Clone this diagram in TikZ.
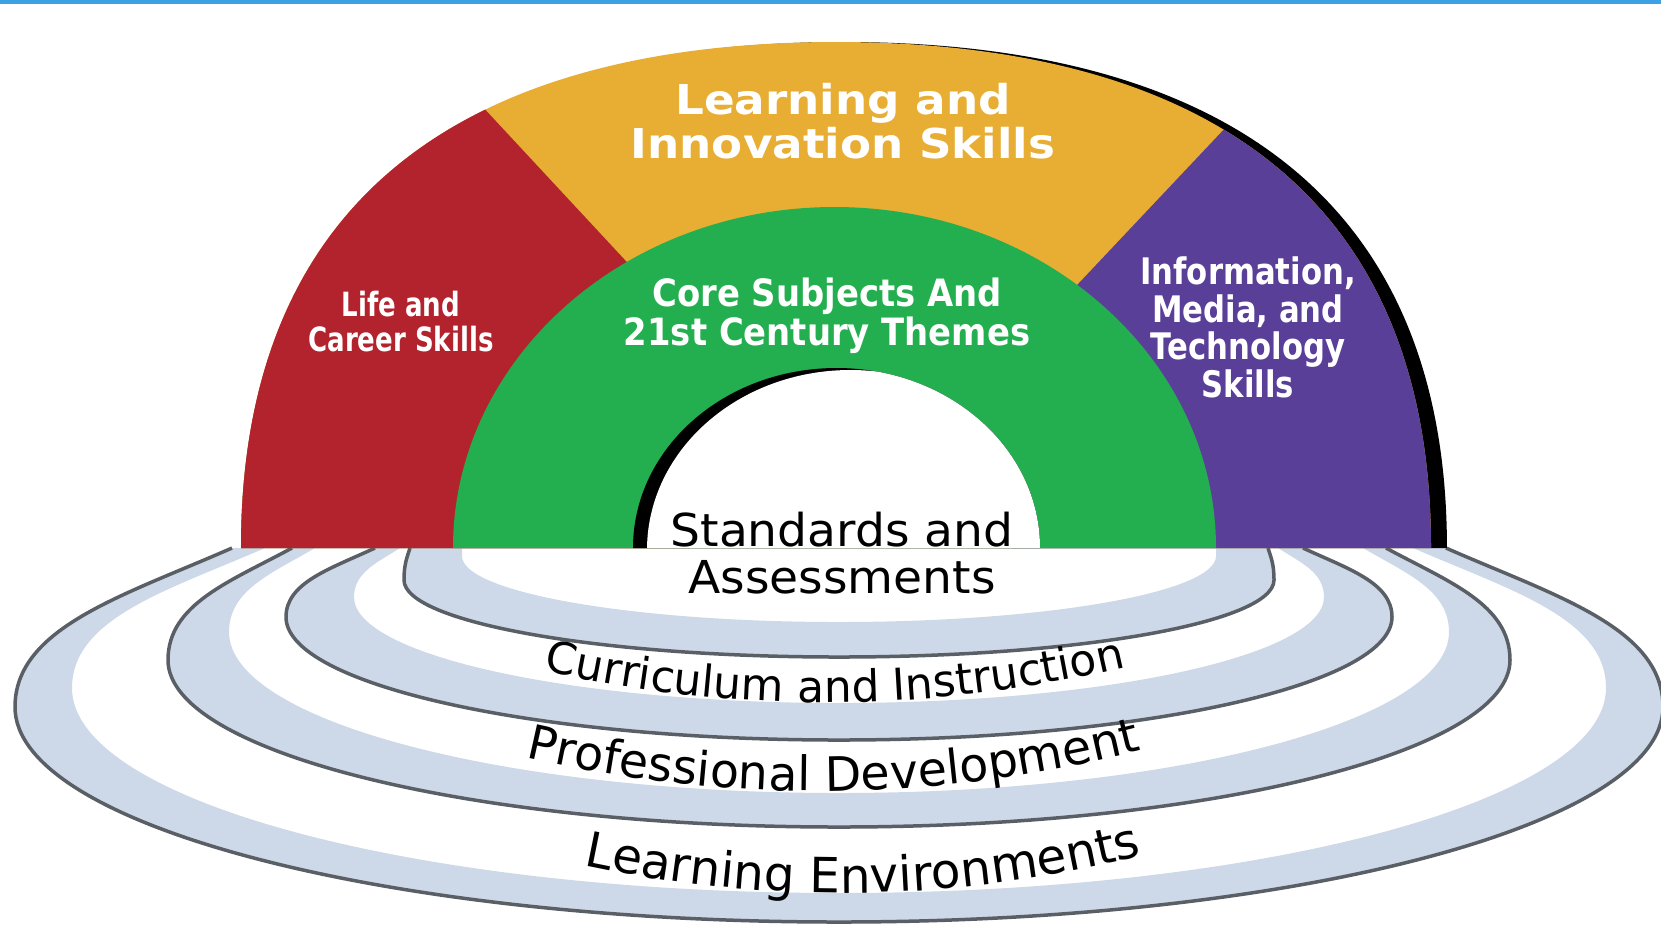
\documentclass[tikz,border=0pt]{standalone}
\usepackage{graphicx}
\usepackage{fontspec}
\usetikzlibrary{decorations.text}

\newfontfamily\dejavu{DejaVu Sans}
\definecolor{skyline}{HTML}{3DA0E4}
\definecolor{lifered}{HTML}{B3232E}
\definecolor{learnyellow}{HTML}{E8AD33}
\definecolor{coregreen}{HTML}{23AF4F}
\definecolor{infopurple}{HTML}{5A3F99}
\definecolor{ringblue}{HTML}{CDD8E8}
\definecolor{ringline}{HTML}{5A5F66}

\newcommand{\squeezed}[2]{\scalebox{#1}[1]{\begin{tabular}{@{}c@{}}#2\end{tabular}}}
\newcommand{\curvefontA}{\dejavu\fontsize{12.5}{15}\selectfont}
\newcommand{\curvefontB}{\dejavu\fontsize{13.5}{16}\selectfont}
\newcommand{\curvefontC}{\dejavu\fontsize{13.8}{16}\selectfont}
% one ring edge: base crossing, leftmost x, leftmost y, bottom y (mirrored about x=839)
\newcommand{\ringpath}[4]{(#1,548) .. controls ({#1-0.5*(#1-#2)},{548+0.3*(#3-548)}) and (#2,{#3-0.5*(#3-548)}) .. (#2,#3)
  .. controls (#2,{#3+0.55*(#4-#3)}) and ({839-0.55*(839-#2)},#4) .. (839,#4)
  .. controls ({839+0.55*(839-#2)},#4) and ({1678-#2},{#3+0.55*(#4-#3)}) .. ({1678-#2},#3)
  .. controls ({1678-#2},{#3-0.5*(#3-548)}) and ({1678-#1+0.5*(#1-#2)},{548+0.3*(#3-548)}) .. ({1678-#1},548)}

\tikzset{
  dome/.style={insert path={(241,548) .. controls (241,143) and (539,42) .. (836,42)
    .. controls (1133,42) and (1431,143) .. (1431,548)}},
  whitelabel/.style={text=white, font=\dejavu\bfseries, inner sep=0pt},
  blacklabel/.style={text=black, font=\dejavu, inner sep=0pt},
  ringedge/.style={ringline, line width=0.35mm},
}

\begin{document}
\begin{tikzpicture}[x=0.1mm,y=-0.1mm]
\useasboundingbox (0,0) rectangle (1661,936);
% top bar
\fill[skyline] (0,0) rectangle (1661,4);

% Rings under the rainbow
\fill[ringblue,even odd rule] \ringpath{232}{15}{707}{922} -- cycle \ringpath{265}{72}{688}{893} -- cycle;
\fill[ringblue,even odd rule] \ringpath{292}{168}{660}{827} -- cycle \ringpath{315}{229}{632}{793} -- cycle;
\fill[ringblue,even odd rule] \ringpath{375}{286}{617}{740} -- cycle \ringpath{400}{354}{597}{703} -- cycle;
\fill[ringblue,even odd rule] \ringpath{410}{404}{580}{657} -- cycle \ringpath{462}{462}{556}{622} -- cycle;
% dark outer edges
\draw[ringedge] \ringpath{232}{15}{707}{922};
\draw[ringedge] \ringpath{292}{168}{660}{827};
\draw[ringedge] \ringpath{375}{286}{617}{740};
\draw[ringedge] \ringpath{410}{404}{580}{657};

% Rainbow: shadow, then the three outer sectors
\begin{scope}[shift={(241,0)},xscale=1.0134,shift={(-241,0)}]
\fill[black,dome] -- cycle;
\end{scope}
\fill[learnyellow,dome] -- cycle;
\begin{scope}
\clip (191,-207) -- (690,330) -- (690,600) -- (-10,600) -- (-10,-207) -- cycle;
\fill[lifered,dome] -- cycle;
\end{scope}
\begin{scope}
\clip (1512,-176) -- (1012,354) -- (1012,600) -- (1700,600) -- (1700,-176) -- cycle;
\fill[infopurple,dome] -- cycle;
\end{scope}

% Green ring and the hole with its shadow
\fill[coregreen] (453,548) arc[start angle=180,end angle=360,x radius=381.5,y radius=341] -- cycle;
\fill[black] (633,548) arc[start angle=180,end angle=360,x radius=203.5,y radius=180] -- cycle;
\begin{scope}
\clip (633,548) arc[start angle=180,end angle=360,x radius=203.5,y radius=180] -- cycle;
\fill[white] (647,550) arc[start angle=180,end angle=360,x radius=203.5,y radius=180] -- (1054,560) -- (647,560) -- cycle;
\end{scope}

% Labels on the rainbow
\node[whitelabel] (learning) at (843,127) {\fontsize{11.7}{12}\selectfont\squeezed{1.1}{Learning and\\Innovation Skills}};
\node[whitelabel] (life) at (401,326) {\fontsize{9.5}{8.6}\selectfont\squeezed{0.78}{Life and\\Career Skills}};
\node[whitelabel] (core) at (827,317) {\fontsize{10.7}{10}\selectfont\squeezed{0.9}{Core Subjects And\\21st Century Themes}};
\node[whitelabel] (info) at (1248,332) {\fontsize{10.4}{9.4}\selectfont\squeezed{0.84}{Information,\\Media, and\\Technology\\Skills}};
\node[blacklabel] (standards) at (842,560) {\fontsize{12.9}{13.4}\selectfont\squeezed{1.04}{Standards and\\Assessments}};

% Labels along the rings
\path[decorate,decoration={text along path,text align=center,text={|\curvefontA|Curriculum and Instruction}}]
  (540,670) .. controls (737,715) and (933,713) .. (1130,666);
\path[decorate,decoration={text along path,text align=center,text={|\curvefontB|Professional Development}}]
  (525,757) .. controls (730,805) and (937,802) .. (1142,750);
\path[decorate,decoration={text along path,text align=center,text={|\curvefontC|Learning Environments}}]
  (582,865) .. controls (770,905) and (955,903) .. (1144,855);
\end{tikzpicture}
\end{document}
